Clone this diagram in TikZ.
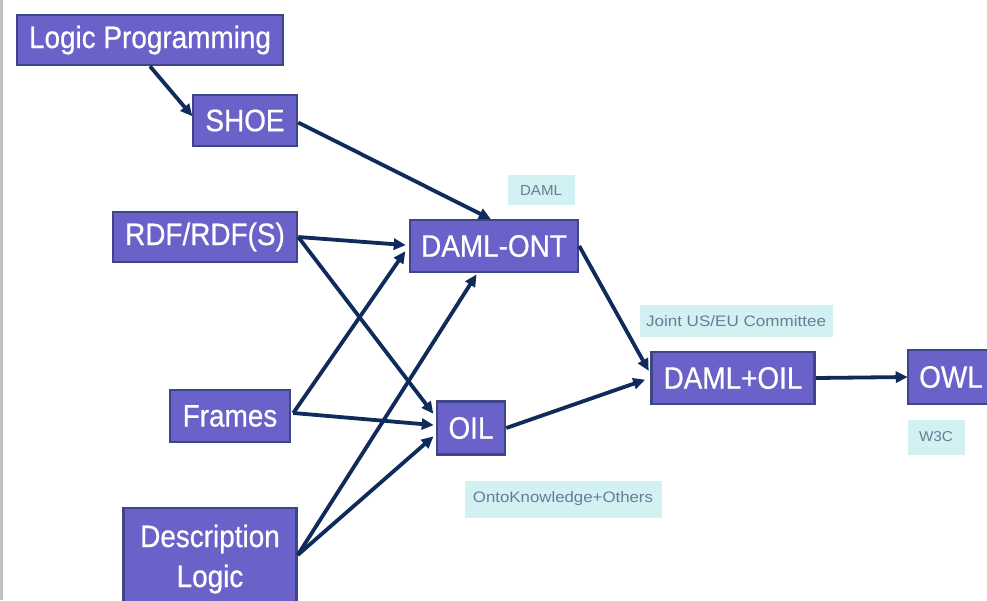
\documentclass[tikz,border=0pt]{standalone}
\usepackage{fontspec}
\setmainfont{Liberation Sans}
\newfontfamily\boxfont[FakeStretch=0.9,FakeBold=0.6]{Liberation Sans}
\usetikzlibrary{arrows.meta,calc}
\definecolor{boxfill}{HTML}{6A62C8}
\definecolor{boxline}{HTML}{3E4785}
\definecolor{edgecol}{HTML}{0E2B5C}
\definecolor{tagfill}{HTML}{D2F1F2}
\definecolor{tagtext}{HTML}{6A7C98}
\tikzset{
  concept/.style={rectangle, fill=boxfill, draw=boxline, line width=2.5pt, text=white,
    font=\boxfont\fontsize{31}{34}\selectfont, inner sep=0pt, align=center},
  tag/.style={rectangle, fill=tagfill, draw=none, text=tagtext,
    font=\fontsize{10}{11}\selectfont, inner sep=0pt},
  link/.style={draw=edgecol, line width=3.8pt, -{Triangle[length=12pt,width=11pt]}, shorten >=-1pt}
}
\begin{document}
\begin{tikzpicture}[x=1pt,y=-1pt]
\useasboundingbox (0,0) rectangle (987,600);
\fill[white] (0,0) rectangle (987,600);
\fill[black!25] (0,0) rectangle (3,600);

\node[concept, minimum width=266pt, minimum height=50pt] (lp) at (150,40) {Logic Programming};
\node[concept, minimum width=104pt, minimum height=51pt] (shoe) at (245,120.5) {SHOE};
\node[concept, minimum width=184pt, minimum height=50pt] (rdf) at (205,237) {RDF/RDF(S)};
\node[concept, minimum width=168pt, minimum height=52pt] (damlont) at (494,246) {DAML-ONT};
\node[concept, minimum width=120pt, minimum height=52pt] (frames) at (230,416) {Frames};
\node[concept, minimum width=68pt, minimum height=53pt] (oil) at (471,428) {OIL};
\node[concept, minimum width=163pt, minimum height=52pt] (damloil) at (733,378) {DAML+OIL};
\node[concept, minimum width=86pt, minimum height=54pt] (owl) at (951,377) {OWL};
\node[concept, minimum width=173pt, minimum height=102pt] (dl) at (210,559) {Description\\[6pt]Logic};

\node[tag, minimum width=67pt, minimum height=30pt] (tdaml) at (541,190) {\resizebox{42pt}{10pt}{DAML}};
\node[tag, minimum width=193pt, minimum height=32pt] (tjoint) at (736,321) {\resizebox{180pt}{11pt}{Joint US/EU Committee}};
\node[tag, minimum width=57pt, minimum height=35pt] (tw3c) at (936,437) {\resizebox{34pt}{10pt}{W3C}};
\node[tag, minimum width=197pt, minimum height=37pt] (tonto) at (563,499) {\resizebox{180pt}{11pt}{OntoKnowledge+Others}};

\draw[link] (lp.south) -- ([shift={(0,-5)}]shoe.west);
\draw[link] ([shift={(0,2)}]shoe.east) -- ([shift={(-4,0)}]damlont.north);
\draw[link] (rdf.east) -- ([shift={(-4,-1)}]damlont.west);
\draw[link] (rdf.east) -- ([shift={(-3,-15)}]oil.west);
\draw[link] ([shift={(2,-3)}]frames.east) -- ([shift={(-4,6)}]damlont.west);
\draw[link] ([shift={(2,-3)}]frames.east) -- ([shift={(-3,-3)}]oil.west);
\draw[link] ([shift={(0,-4)}]dl.east) -- ([shift={(-18,2)}]damlont.south);
\draw[link] ([shift={(0,-4)}]dl.east) -- ([shift={(-3,9)}]oil.west);
\draw[link] (damlont.east) -- ([shift={(-2,-8)}]damloil.west);
\draw[link] (oil.east) -- ([shift={(-6,2)}]damloil.west);
\draw[link] (damloil.east) -- (owl.west);
\end{tikzpicture}
\end{document}
